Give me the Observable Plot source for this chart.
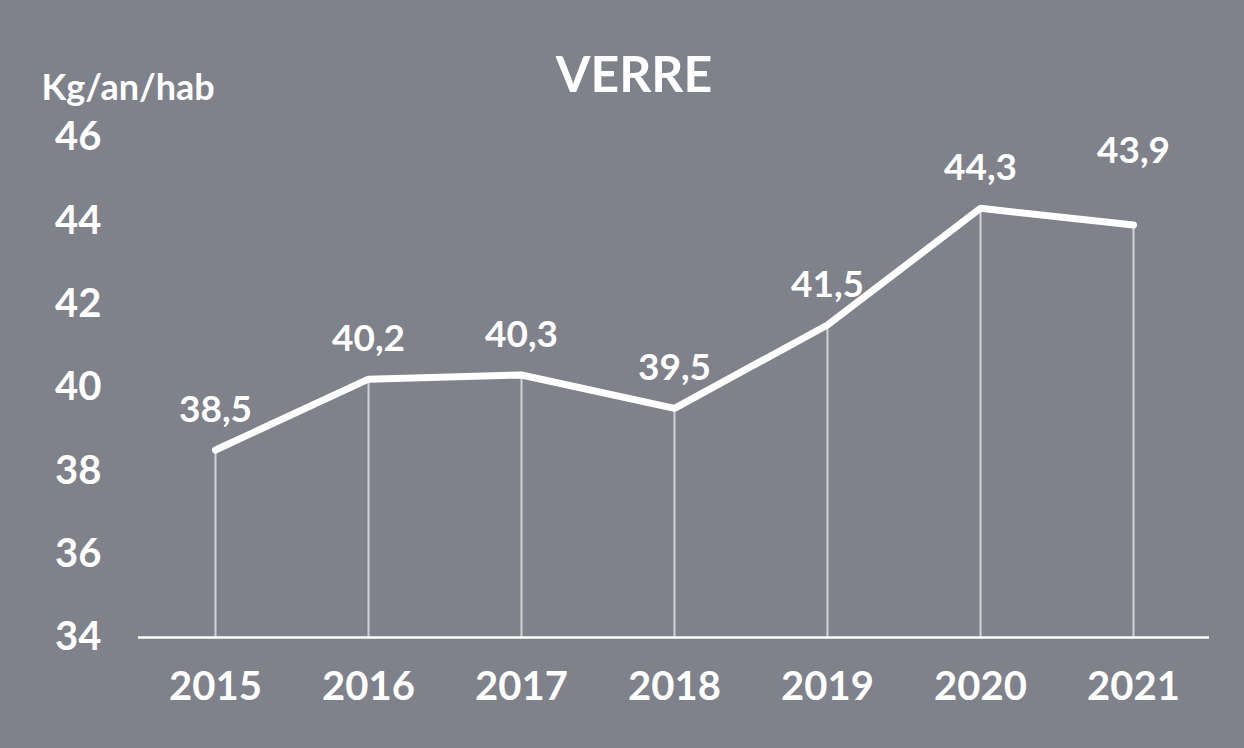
<!DOCTYPE html>
<html>
<head>
<meta charset="utf-8">
<script src="https://cdn.jsdelivr.net/npm/d3@7"></script>
<script src="https://cdn.jsdelivr.net/npm/@observablehq/plot@0.6"></script>
<style>
  html, body { margin: 0; padding: 0; background: #ffffff; }
  #chart svg { display: block; }
</style>
</head>
<body>
<div id="chart"></div>
<script>
const years = ["2015", "2016", "2017", "2018", "2019", "2020", "2021"];
const values = [38.5, 40.2, 40.3, 39.5, 41.5, 44.3, 43.9];
const valueLabels = ["38,5", "40,2", "40,3", "39,5", "41,5", "44,3", "43,9"];
const yTicks = [34, 36, 38, 40, 42, 44, 46];
const title = "VERRE";
const unit = "Kg/an/hab";

const data = years.map((year, i) => ({ year, value: values[i], label: valueLabels[i] }));
const lastYear = years[years.length - 1];

const chart = Plot.plot({
  width: 1244,
  height: 748,
  marginLeft: 138,
  marginRight: 35,
  marginTop: 137,
  marginBottom: 111,
  style: {
    background: "#7f818b",
    color: "white",
    fontFamily: "Lato, 'Open Sans', sans-serif",
    fontWeight: "bold"
  },
  x: { type: "point", domain: years, padding: 0.5, label: null },
  y: { domain: [34, 46], label: null },
  marks: [
    Plot.axisX({ tickSize: 0, tickPadding: 34, fontSize: 40, fill: "white", label: null }),
    Plot.axisY({ ticks: yTicks, tickSize: 0, tickPadding: 37, fontSize: 40, fill: "white", label: null, tickFormat: d => String(d) }),
    Plot.ruleY([34], { stroke: "white", strokeWidth: 2.5 }),
    Plot.ruleX(data, { x: "year", y1: 34, y2: "value", stroke: "white", strokeWidth: 2, strokeOpacity: 0.65 }),
    Plot.line(data, { x: "year", y: "value", stroke: "white", strokeWidth: 7, strokeLinejoin: "miter" }),
    Plot.text(data.filter(d => d.year !== lastYear), { x: "year", y: "value", text: "label", fill: "white", fontSize: 37, lineAnchor: "bottom", dy: -28 }),
    Plot.text(data.filter(d => d.year === lastYear), { x: "year", y: "value", text: "label", fill: "white", fontSize: 37, lineAnchor: "bottom", dy: -62 }),
    Plot.text([title], { frameAnchor: "top", text: d => d, fill: "white", fontSize: 50, lineAnchor: "bottom", dx: -40, dy: -46 }),
    Plot.text([unit], { frameAnchor: "top-left", text: d => d, fill: "white", fontSize: 36, textAnchor: "start", lineAnchor: "bottom", dx: -97, dy: -38, letterSpacing: 1 })
  ]
});

document.getElementById("chart").appendChild(chart);
</script>
</body>
</html>
